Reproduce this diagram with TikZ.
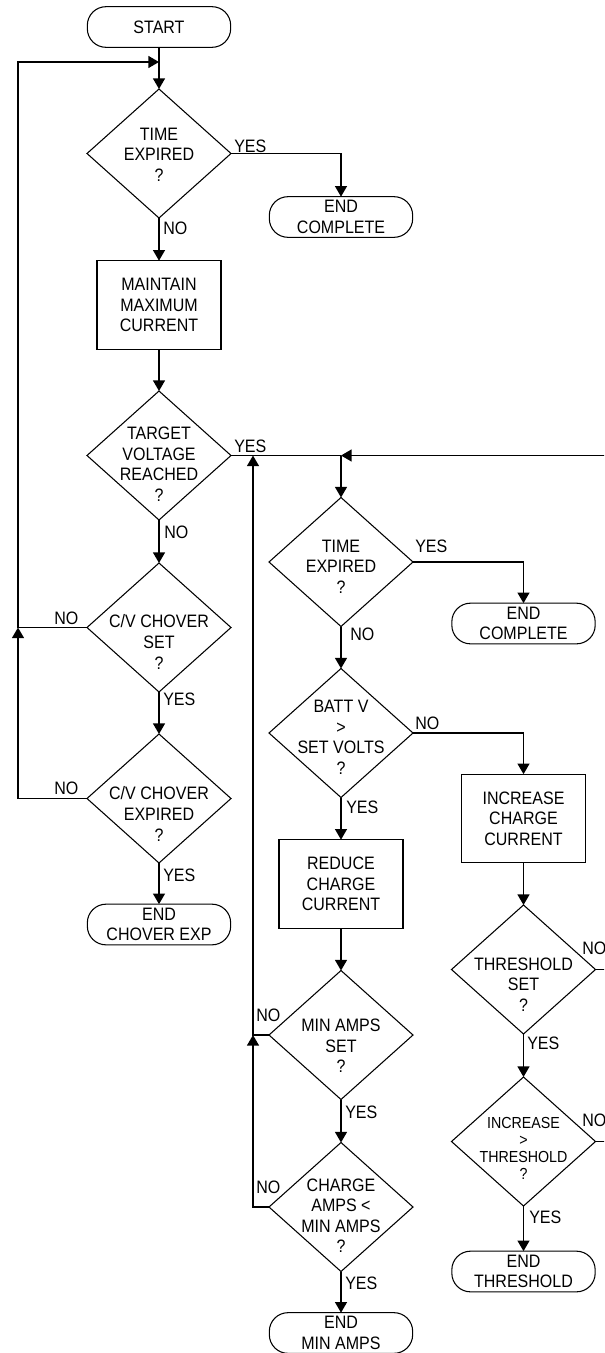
\documentclass[tikz,border=0pt]{standalone}
\usepackage{fontspec}
\setmainfont[FakeStretch=0.89]{Liberation Sans}
\usetikzlibrary{shapes.geometric,arrows.meta}
\newcommand\myfont{\fontsize{13.5pt}{15.4pt}\selectfont}
\newcommand\mysmallfont{\fontsize{12pt}{12.8pt}\selectfont}
\begin{document}
\begin{tikzpicture}[x=0.75pt,y=-0.75pt,
  shapeline/.style={draw=black,line width=0.8pt,outer sep=0pt,inner sep=0pt},
  term/.style={shapeline,rectangle,rounded corners=14pt,minimum width=107.5pt,minimum height=30.5pt,align=center,font=\myfont},
  procbox/.style={shapeline,rectangle,minimum width=93pt,minimum height=66.5pt,align=center,font=\myfont},
  dia/.style={shapeline,diamond,minimum width=108pt,minimum height=96.75pt},
  txt/.style={align=center,font=\myfont,inner sep=0pt},
  smalltxt/.style={align=center,font=\mysmallfont,inner sep=0pt},
  lab/.style={anchor=west,font=\myfont,inner sep=0pt},
  line/.style={line width=1.1pt},
  conn/.style={line width=1.1pt,-{Triangle[length=8pt,width=9pt]}}]
\path[use as bounding box,clip] (0,0) rectangle (604,1353);

% left column
\node[term] (start) at (159,27) {START};
\node[dia] (t1) at (159,153.5) {};
\node[txt] at (159,154.5) {TIME\\EXPIRED\\?};
\node[term] (end1) at (341,217) {END\\COMPLETE};
\node[procbox] (maint) at (159,305) {MAINTAIN\\MAXIMUM\\CURRENT};
\node[dia] (t2) at (159,455.5) {};
\node[txt] at (159,464) {TARGET\\VOLTAGE\\REACHED\\?};
\node[dia] (cvs) at (159,627.5) {};
\node[txt] at (159,642) {C/V CHOVER\\SET\\?};
\node[dia] (cve) at (159,798.5) {};
\node[txt] at (159,814) {C/V CHOVER\\EXPIRED\\?};
\node[term] (end3) at (159,924.5) {END\\CHOVER EXP};

% middle column
\node[dia] (t3) at (341,562) {};
\node[txt] at (341,566.5) {TIME\\EXPIRED\\?};
\node[dia] (batt) at (341,733) {};
\node[txt] at (341,737.5) {BATT V\\>\\SET VOLTS\\?};
\node[procbox] (red) at (341,884) {REDUCE\\CHARGE\\CURRENT};
\node[dia] (mina) at (341,1035) {};
\node[txt] at (341,1046) {MIN AMPS\\SET\\?};
\node[dia] (cha) at (341,1207) {};
\node[txt] at (341,1215.5) {CHARGE\\AMPS <\\MIN AMPS\\?};
\node[term] (end4) at (341,1333) {END\\MIN AMPS};

% right column
\node[term] (end2) at (523.5,623.5) {END\\COMPLETE};
\node[procbox] (inc) at (523.5,818.5) {INCREASE\\CHARGE\\CURRENT};
\node[dia] (thr) at (523.5,969.5) {};
\node[txt] at (523.5,984.5) {THRESHOLD\\SET\\?};
\node[dia] (ithr) at (523.5,1141.5) {};
\node[smalltxt] at (523.5,1148.5) {INCREASE\\>\\THRESHOLD\\?};
\node[term] (end5) at (523.5,1271.5) {END\\THRESHOLD};

% helper coordinates
\coordinate (lx) at (18,62);
\coordinate (mx) at (253,455.5);
\coordinate (rx) at (616,455.5);
\coordinate (J) at (t3.north |- t2.east);

% connectors left column
\draw[conn] (start.south) -- (t1.north);
\draw[conn] (t1.east) -| (end1.north);
\draw[conn] (t1.south) -- (maint.north);
\draw[conn] (maint.south) -- (t2.north);
\draw[conn] (t2.south) -- (cvs.north);
\draw[conn] (cvs.south) -- (cve.north);
\draw[conn] (cve.south) -- (end3.north);
\draw[conn] (cve.west) -| (cvs.west -| lx);
\draw[conn] (cvs.west) -| (lx) -- (start.south |- lx);

% connectors middle
\draw[line] (t2.east) -- (J);
\draw[conn] (J) -- (t3.north);
\draw[conn] (t3.east) -| (end2.north);
\draw[conn] (t3.south) -- (batt.north);
\draw[conn] (batt.east) -| (inc.north);
\draw[conn] (batt.south) -- (red.north);
\draw[conn] (red.south) -- (mina.north);
\draw[conn] (mina.south) -- (cha.north);
\draw[conn] (cha.south) -- (end4.north);
\draw[conn] (cha.west) -| (mina.west -| mx);
\draw[conn] (mina.west) -| (mx);

% connectors right
\draw[conn] (inc.south) -- (thr.north);
\draw[conn] (thr.south) -- (ithr.north);
\draw[conn] (ithr.south) -- (end5.north);
\draw[conn] (thr.east) -| (rx) -- (J);
\draw[line] (ithr.east) -| (thr.east -| rx);

% labels
\node[lab] at (234,146) {YES};
\node[lab] at (163,228) {NO};
\node[lab] at (234,446) {YES};
\node[lab] at (164,532) {NO};
\node[lab] at (54,618) {NO};
\node[lab] at (163,699) {YES};
\node[lab] at (54,788) {NO};
\node[lab] at (163,875) {YES};
\node[lab] at (415,546) {YES};
\node[lab] at (350,634) {NO};
\node[lab] at (415,723) {NO};
\node[lab] at (346,807) {YES};
\node[lab] at (256,1015) {NO};
\node[lab] at (345,1112) {YES};
\node[lab] at (256,1187) {NO};
\node[lab] at (345,1283) {YES};
\node[lab] at (582,948) {NO};
\node[lab] at (527,1043) {YES};
\node[lab] at (582,1120) {NO};
\node[lab] at (529,1217) {YES};
\end{tikzpicture}
\end{document}
